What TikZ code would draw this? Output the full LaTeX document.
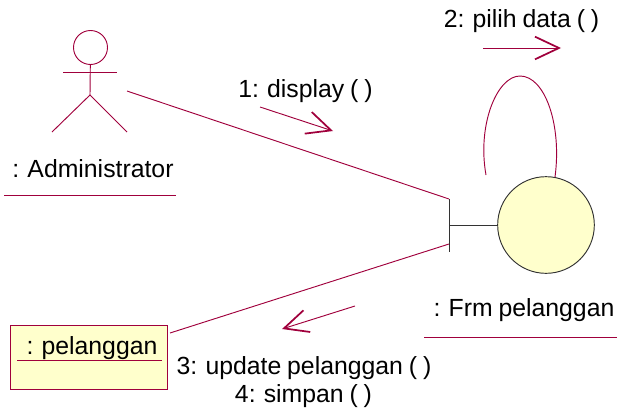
\documentclass[tikz,border=0pt]{standalone}
\usepackage{fontspec}
\setmainfont[WordSpace=0.85]{Liberation Sans}
\usetikzlibrary{arrows.meta}

\definecolor{umlline}{RGB}{160,0,60}
\definecolor{umlfill}{RGB}{255,255,204}
\tikzset{
    wire/.style={draw=umlline, line width=0.7pt},
    blackwire/.style={draw=black!80, line width=0.7pt},
    msgarrow/.style={draw=umlline, line width=0.7pt, -{Straight Barb[length=18pt, width=17pt, line width=1.3pt]}},
    label/.style={inner sep=0pt, font=\fontsize{18.6}{20}\selectfont},
}

\begin{document}
\begin{tikzpicture}[x=0.75pt, y=-0.75pt]
        \useasboundingbox (0,0) rectangle (617,411);

        % actor
        \node[draw=umlline, line width=0.7pt, circle, minimum size=25.5pt, inner sep=0pt] (head) at (90.5,47.5) {};
        \coordinate (hip) at (90,95);
        \coordinate (armL) at (63,72);
        \coordinate (armR) at (117,72);
        \coordinate (legL) at (52,132);
        \coordinate (legR) at (127,132);
        \draw[wire] (head) -- (hip);
        \draw[wire] (armL) -- (armR);
        \draw[wire] (legL) -- (hip) -- (legR);
        \node[label] (admin) at (93,169) {: Administrator};
        \coordinate (adminL) at (4,195);
        \coordinate (adminR) at (176,195);
        \draw[wire] (adminL) -- (adminR);

        % boundary
        \node[draw=black!80, line width=0.7pt, fill=umlfill, circle, minimum size=72.5pt, inner sep=0pt] (frm) at (546,225) {};
        \coordinate (barT) at (449,199);
        \coordinate (barM) at (449,225);
        \coordinate (barB) at (449,252);
        \draw[blackwire] (barT) -- (barB);
        \draw[blackwire] (barM) -- (frm);
        \node[label] (frmtext) at (524,310) {: Frm pelanggan};
        \coordinate (frmL) at (424,337);
        \coordinate (frmR) at (617,337);
        \draw[wire] (frmL) -- (frmR);

        % entity box
        \node[draw=umlline, line width=0.7pt, fill=umlfill, rectangle, minimum width=118pt, minimum height=48pt, inner sep=0pt] (box) at (89,357.5) {};
        \node[label] (boxtext) at (92,348) {: pelanggan};
        \coordinate (boxL) at (17,360);
        \coordinate (boxR) at (162,360);
        \draw[wire] (boxL) -- (boxR);

        % links
        \coordinate (adminEnd) at (127,91);
        \coordinate (boxEnd) at (170,333);
        \coordinate (barIn) at (449,244);
        \draw[wire] (adminEnd) -- (barT);
        \draw[wire] (boxEnd) -- (barIn);

        % self link
        \coordinate (loopA) at (486,175);
        \coordinate (loopB) at (555,177);
        \draw[wire] (loopA) .. controls (477,125) and (497,76) .. (520,76) .. controls (545,76) and (562,125) .. (loopB);

        % messages
        \coordinate (m1a) at (260,107);
        \coordinate (m1b) at (333,131);
        \coordinate (m2a) at (483,48);
        \coordinate (m2b) at (561,48);
        \coordinate (m3a) at (355,306);
        \coordinate (m3b) at (282,329);
        \draw[msgarrow] (m1a) -- (m1b);
        \draw[msgarrow] (m2a) -- (m2b);
        \draw[msgarrow] (m3a) -- (m3b);
        \node[label] (msg1) at (305.5,91) {1: display ( )};
        \node[label] (msg2) at (521.5,21) {2: pilih data ( )};
        \node[label] (msg3) at (304,368) {3: update pelanggan ( )};
        \node[label] (msg4) at (303.5,396) {4: simpan ( )};
    \end{tikzpicture}
\end{document}
